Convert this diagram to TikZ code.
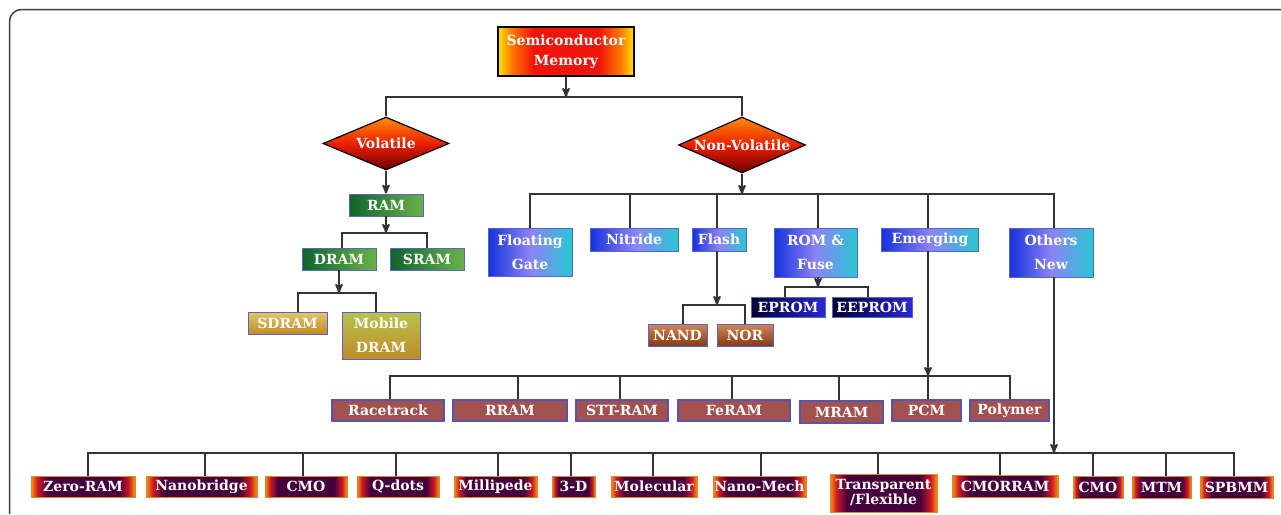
\documentclass[tikz,border=0pt]{standalone}
\usepackage{fontspec}
\setmainfont{DejaVu Serif}
\usetikzlibrary{shapes.geometric}
\usetikzlibrary{arrows.meta,arrows}
\usetikzlibrary{positioning}

\definecolor{semiY}{RGB}{255,228,0}
\definecolor{semiO}{RGB}{255,120,0}
\definecolor{semiR}{RGB}{240,20,10}
\definecolor{volT}{RGB}{255,140,0}
\definecolor{volM}{RGB}{235,30,0}
\definecolor{volB}{RGB}{110,0,0}
\definecolor{ramD}{RGB}{15,100,45}
\definecolor{ramL}{RGB}{105,178,72}
\definecolor{goldT}{RGB}{228,198,105}
\definecolor{goldB}{RGB}{192,140,40}
\definecolor{mobT}{RGB}{185,195,75}
\definecolor{nvB}{RGB}{20,50,220}
\definecolor{nvL}{RGB}{140,130,245}
\definecolor{nvC}{RGB}{40,200,210}
\definecolor{nandT}{RGB}{210,135,85}
\definecolor{nandB}{RGB}{130,58,22}
\definecolor{epD}{RGB}{0,0,45}
\definecolor{epL}{RGB}{40,40,215}
\definecolor{emRed}{RGB}{162,82,78}
\definecolor{emBdr}{RGB}{85,85,175}
\definecolor{bdr}{RGB}{90,100,200}
\definecolor{othO}{RGB}{255,150,0}
\definecolor{othR}{RGB}{205,25,40}
\definecolor{othD}{RGB}{70,0,60}

\pgfdeclarehorizontalshading{semishade}{100bp}{color(0bp)=(semiY); color(25bp)=(semiY); color(30bp)=(semiO); color(38bp)=(semiR); color(62bp)=(semiR); color(70bp)=(semiO); color(75bp)=(semiY); color(100bp)=(semiY)}
\pgfdeclarehorizontalshading{othershade}{100bp}{color(0bp)=(othO); color(25bp)=(othO); color(28bp)=(othR); color(33bp)=(othD); color(67bp)=(othD); color(72bp)=(othR); color(75bp)=(othO); color(100bp)=(othO)}

\begin{document}
\begin{tikzpicture}[x=1pt,y=-1pt,>=stealth']
 \tikzset{
 	base node/.style={rectangle,text=white,align=center,inner sep=1,font=\fontsize{14}{24}\selectfont\bfseries},
 	semi node/.style={base node,draw=black,line width=1.8pt,shade,shading=semishade,font=\fontsize{14}{20}\selectfont\bfseries},
 	vol node/.style={diamond,draw=black,line width=1.2pt,aspect=2.4,inner sep=0,top color=volT,bottom color=volB,middle color=volM,text=white,font=\fontsize{14}{15}\selectfont\bfseries},
 	ram node/.style={base node,draw=bdr,line width=0.8pt,left color=ramD,right color=ramL},
 	dram node/.style={base node,draw=bdr,line width=0.8pt,top color=goldT,bottom color=goldB},
 	nv node/.style={base node,draw=bdr,line width=0.8pt,left color=nvB,right color=nvC,middle color=nvL},
 	flash node/.style={base node,draw=bdr,line width=0.8pt,top color=nandT,bottom color=nandB},
 	rom node/.style={base node,draw=bdr,line width=0.8pt,left color=epD,right color=epL},
 	emerg node/.style={base node,draw=emBdr,line width=1.2pt,fill=emRed},
 	new node/.style={base node,draw=othO!60!gray,line width=0.8pt,shade,shading=othershade},
 	link/.style={draw=black!80,line width=2pt},
 	frame/.style={draw=black!75,line width=1.5pt,rounded corners=12pt}
 }
 \useasboundingbox (0,0) rectangle (1281,514);
 \draw[frame] (9.5,514) -- (9.5,9.5) -- (1281,9.5);

       % top
       \node[semi node,minimum width=136,minimum height=49] (semi) at (566,51.5) {Semiconductor\\Memory};
       \node[vol node,minimum width=126,minimum height=53] (vol) at (386,143.5) {Volatile};
       \node[vol node,minimum width=127,minimum height=56] (nvol) at (742,145) {Non-Volatile};

       % volatile side
       \node[ram node,minimum width=74,minimum height=22] (ram) at (386,205) {RAM};
       \node[ram node,minimum width=74,minimum height=22] (dram) at (339,259) {DRAM};
       \node[ram node,minimum width=74,minimum height=22] (sram) at (427,259) {SRAM};
       \node[dram node,minimum width=79,minimum height=22] (sdram) at (287.5,323) {SDRAM};
       \node[dram node,minimum width=78,minimum height=47,top color=mobT] (mdram) at (381,335.5) {Mobile\\DRAM};

       % non-volatile side
       \node[nv node,minimum width=84,minimum height=48] (fgate) at (530,252) {Floating\\Gate};
       \node[nv node,minimum width=88,minimum height=23] (nitride) at (634,239.5) {Nitride};
       \node[nv node,minimum width=54,minimum height=23] (flash) at (719,239.5) {Flash};
       \node[nv node,minimum width=83,minimum height=49] (rom) at (815.5,252.5) {ROM \&\\Fuse};
       \node[nv node,minimum width=97,minimum height=23] (emerg) at (930,239.5) {Emerging};
       \node[nv node,minimum width=84,minimum height=49] (others) at (1051,252.5) {Others\\New};

       \node[flash node,minimum width=59,minimum height=22] (nand) at (677.5,335) {NAND};
       \node[flash node,minimum width=56,minimum height=22] (nor) at (745,335) {NOR};
       \node[rom node,minimum width=74,minimum height=20] (eprom) at (788,307) {EPROM};
       \node[rom node,minimum width=80,minimum height=20] (eeprom) at (872,307) {EEPROM};

       % emerging row
       \node[emerg node,minimum width=112,minimum height=21] (race) at (388,410.5) {Racetrack};
       \node[emerg node,minimum width=114,minimum height=21] (rram) at (510,410.5) {RRAM};
       \node[emerg node,minimum width=92,minimum height=21] (stt) at (622,410.5) {STT-RAM};
       \node[emerg node,minimum width=112,minimum height=21] (feram) at (734,410.5) {FeRAM};
       \node[emerg node,minimum width=83,minimum height=22] (mram) at (841.5,412) {MRAM};
       \node[emerg node,minimum width=69,minimum height=21] (pcm) at (926.5,410.5) {PCM};
       \node[emerg node,minimum width=79,minimum height=21] (poly) at (1009.5,410.5) {Polymer};

       % others row
       \node[new node,minimum width=104,minimum height=21] (zero) at (83,486.5) {Zero-RAM};
       \node[new node,minimum width=111,minimum height=21] (nano) at (201.5,486.5) {Nanobridge};
       \node[new node,minimum width=82,minimum height=21] (cmoa) at (306,486.5) {CMO};
       \node[new node,minimum width=82,minimum height=21] (qdots) at (398,486.5) {Q-dots};
       \node[new node,minimum width=83,minimum height=21] (milli) at (495.5,486.5) {Millipede};
       \node[new node,minimum width=43,minimum height=21] (threed) at (573.5,486.5) {3-D};
       \node[new node,minimum width=86,minimum height=21] (molec) at (654,486.5) {Molecular};
       \node[new node,minimum width=93,minimum height=21] (nmech) at (759.5,486.5) {Nano-Mech};
       \node[new node,minimum width=107,minimum height=38,font=\fontsize{14}{15}\selectfont\bfseries] (transp) at (883.5,493) {Transparent\\/Flexible};
       \node[new node,minimum width=106,minimum height=22] (cmorram) at (1005,486) {CMORRAM};
       \node[new node,minimum width=50,minimum height=22] (cmob) at (1098,487) {CMO};
       \node[new node,minimum width=59,minimum height=22] (mtm) at (1161.5,487) {MTM};
       \node[new node,minimum width=73,minimum height=22] (spbmm) at (1236.5,487) {SPBMM};

       % junctions
       \coordinate (jtop) at (566,97);
       \coordinate (jram) at (386,233);
       \coordinate (jdram) at (339,293);
       \coordinate (jnv) at (742,194);
       \coordinate (jflash) at (717,305);
       \coordinate (jrom) at (818,287);
       \coordinate (jemerg) at (928,376);
       \coordinate (jnew) at (1054,453);

     \path[link,->] (semi) -- (jtop);
     \path[link] (vol.north) |- (jtop) -| (nvol.north);

     \path[link,->] (vol) -- (ram);
     \path[link,->] (ram) -- (jram);
     \path[link] ([xshift=3pt]dram.north) |- (jram) -| (sram.north);
     \path[link,->] (dram) -- (jdram);
     \path[link] ([xshift=10pt]sdram.north) |- (jdram) -| ([xshift=-5pt]mdram.north);

     \path[link,->] (nvol) -- (jnv);
     \path[link] (fgate.north) |- (jnv) -| ([xshift=3pt]others.north);
     \path[link] ([xshift=-4pt]nitride.north) -- ([xshift=-4pt]nitride.north |- jnv);
     \path[link] ([xshift=-2pt]flash.north) -- ([xshift=-2pt]flash.north |- jnv);
     \path[link] ([xshift=2.5pt]rom.north) -- ([xshift=2.5pt]rom.north |- jnv);
     \path[link] ([xshift=-2pt]emerg.north) -- ([xshift=-2pt]emerg.north |- jnv);

     \path[link,->] ([xshift=-2pt]flash.south) -- (jflash);
     \path[link] ([xshift=5.5pt]nand.north) |- (jflash) -| (nor.north);
     \path[link,->] ([xshift=2.5pt]rom.south) -- (jrom);
     \path[link] ([xshift=-3pt]eprom.north) |- (jrom) -| ([xshift=-4pt]eeprom.north);

     \path[link,->] ([xshift=-2pt]emerg.south) -- (jemerg);
     \path[link] ([xshift=2pt]race.north) |- (jemerg) -| (poly.north);
     \foreach \n/\s in {rram/8,stt/-2,feram/-2,mram/-2.5,pcm/1.5}
       \path[link] ([xshift=\s pt]\n.north) -- ([xshift=\s pt]\n.north |- jemerg);

     \path[link,->] ([xshift=3pt]others.south) -- (jnew);
     \path[link] ([xshift=5pt]zero.north) |- (jnew) -| ([xshift=-2.5pt]spbmm.north);
     \foreach \n/\s in {nano/3.5,cmoa/-3,qdots/-2,milli/2.5,threed/-2.5,molec/-1,nmech/1.5,transp/-5.5,cmorram/-5,cmob/-5,mtm/4.5}
       \path[link] ([xshift=\s pt]\n.north) -- ([xshift=\s pt]\n.north |- jnew);
 \end{tikzpicture}
\end{document}
